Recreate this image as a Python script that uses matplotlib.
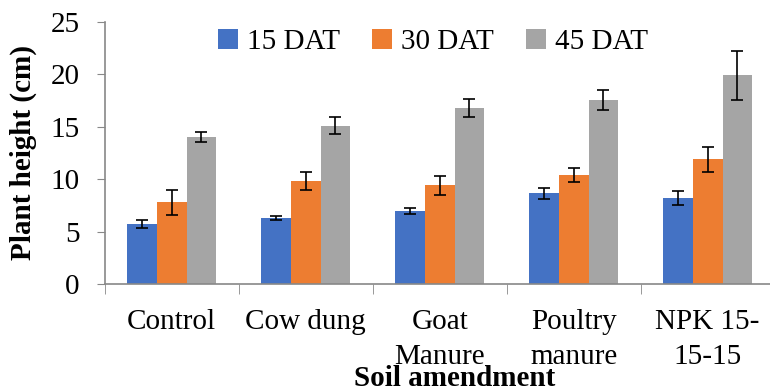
import numpy as np
import matplotlib.pyplot as plt

plt.rcParams['font.family'] = ['Liberation Serif', 'DejaVu Serif']

amendments = ["Control", "Cow dung", "Goat\nManure", "Poultry\nmanure", "NPK 15-\n15-15"]
series = ["15 DAT", "30 DAT", "45 DAT"]
h15 = [5.72, 6.26, 6.96, 8.64, 8.23]
h30 = [7.78, 9.82, 9.43, 10.39, 11.88]
h45 = [14.01, 15.12, 16.80, 17.53, 19.92]
e15 = [0.37, 0.20, 0.32, 0.50, 0.68]
e30 = [1.16, 0.86, 0.90, 0.68, 1.22]
e45 = [0.50, 0.84, 0.87, 0.97, 2.32]
colors = ["#4472C4", "#ED7D31", "#A5A5A5"]

fig = plt.figure(figsize=(7.7, 3.92), dpi=100)
ax = fig.add_axes([0.136, 0.2755, 0.87, 0.6685])

x = np.arange(len(amendments))
w = 0.222
for i, (vals, errs) in enumerate(zip([h15, h30, h45], [e15, e30, e45])):
    ax.bar(x + (i - 1) * w, vals, w, color=colors[i], label=series[i],
           yerr=errs, capsize=4, error_kw=dict(ecolor="black", elinewidth=1.2, capthick=1.2))

ax.set_xlim(-0.5, 4.5)
ax.set_ylim(0, 25)
ax.set_yticks(range(0, 26, 5))
ax.set_xticks(x)
ax.set_xticklabels(amendments, fontsize=21, linespacing=1.45)
ax.set_xticks(np.arange(-0.5, 4.6, 1), minor=True)
ax.tick_params(axis="x", which="major", length=0, pad=18)
ax.tick_params(axis="x", which="minor", length=7, color="#888888")
ax.tick_params(axis="y", labelsize=21, length=6, color="#888888", pad=12)

for s in ["top", "right"]:
    ax.spines[s].set_visible(False)
for s in ["left", "bottom"]:
    ax.spines[s].set_color("#888888")
    ax.spines[s].set_linewidth(1.2)

ax.set_ylabel("Plant height (cm)", fontsize=21, fontweight="bold", labelpad=10)
fig.text(0.59, 0.0, "Soil amendment", fontsize=21, fontweight="bold", ha="center", va="bottom")

ax.legend(loc="upper center", bbox_to_anchor=(0.49, 1.075), ncol=3, frameon=False,
          fontsize=21, handlelength=0.7, handleheight=0.7, handletextpad=0.3,
          columnspacing=1.1)

fig.savefig("out.png", dpi=100)
